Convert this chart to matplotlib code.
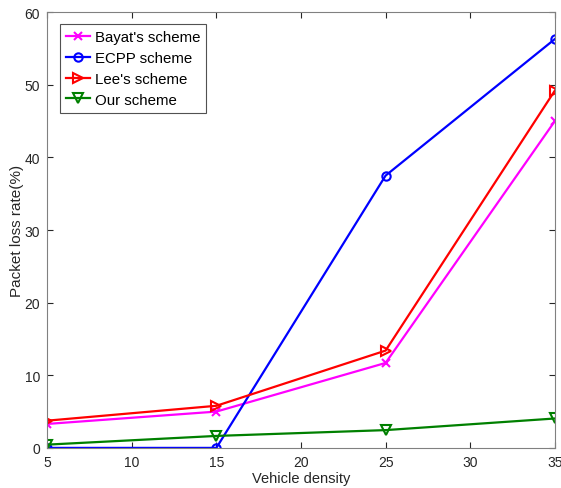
import matplotlib
matplotlib.use('Agg')
import matplotlib.pyplot as plt

plt.rcParams['font.family'] = ['Liberation Sans', 'DejaVu Sans']

# 数据
density = [5, 15, 25, 35]
bayat = [3.3, 5.0, 11.7, 45.0]
ecpp = [0.0, 0.0, 37.5, 56.3]
lee = [3.75, 5.8, 13.4, 49.2]
ours = [0.45, 1.65, 2.45, 4.05]

fig = plt.figure(figsize=(5.61, 4.89), dpi=100)
ax = fig.add_axes([0.084, 0.082, 0.905, 0.891])

ax.plot(density, bayat, color='#ff00ff', marker='x', ms=6, mew=1.5, lw=1.6, label="Bayat's scheme")
ax.plot(density, ecpp, color='#0000ff', marker='o', ms=6, mfc='none', mew=1.5, lw=1.6, label='ECPP scheme')
ax.plot(density, lee, color='#ff0000', marker='>', ms=7, mfc='none', mew=1.5, lw=1.6, label="Lee's scheme")
ax.plot(density, ours, color='#008000', marker='v', ms=7, mfc='none', mew=1.5, lw=1.6, label='Our scheme')

ax.set_xlim(5, 35)
ax.set_ylim(0, 60)
ax.set_xticks([5, 10, 15, 20, 25, 30, 35])
ax.set_yticks([0, 10, 20, 30, 40, 50, 60])
ax.tick_params(direction='in', top=True, right=True, colors='#262626', labelsize=10, length=4, width=0.8)
ax.tick_params(axis='x', pad=5)
ax.tick_params(axis='y', pad=5)
for s in ax.spines.values():
    s.set_color('#808080')
    s.set_linewidth(0.8)

ax.set_xlabel('Vehicle density', fontsize=10.5, color='#262626', labelpad=1.5)
ax.set_ylabel('Packet loss rate(%)', fontsize=11, color='#262626')
ax.yaxis.set_label_coords(-0.045, 0.5)

leg = ax.legend(loc='upper left', bbox_to_anchor=(0.026, 0.972), borderaxespad=0, fontsize=10.8,
                frameon=True, fancybox=False, edgecolor='#262626', handlelength=1.6, borderpad=0.4,
                labelspacing=0.45, handletextpad=0.3)
leg.get_frame().set_linewidth(0.8)

fig.savefig('out.png', dpi=100)
